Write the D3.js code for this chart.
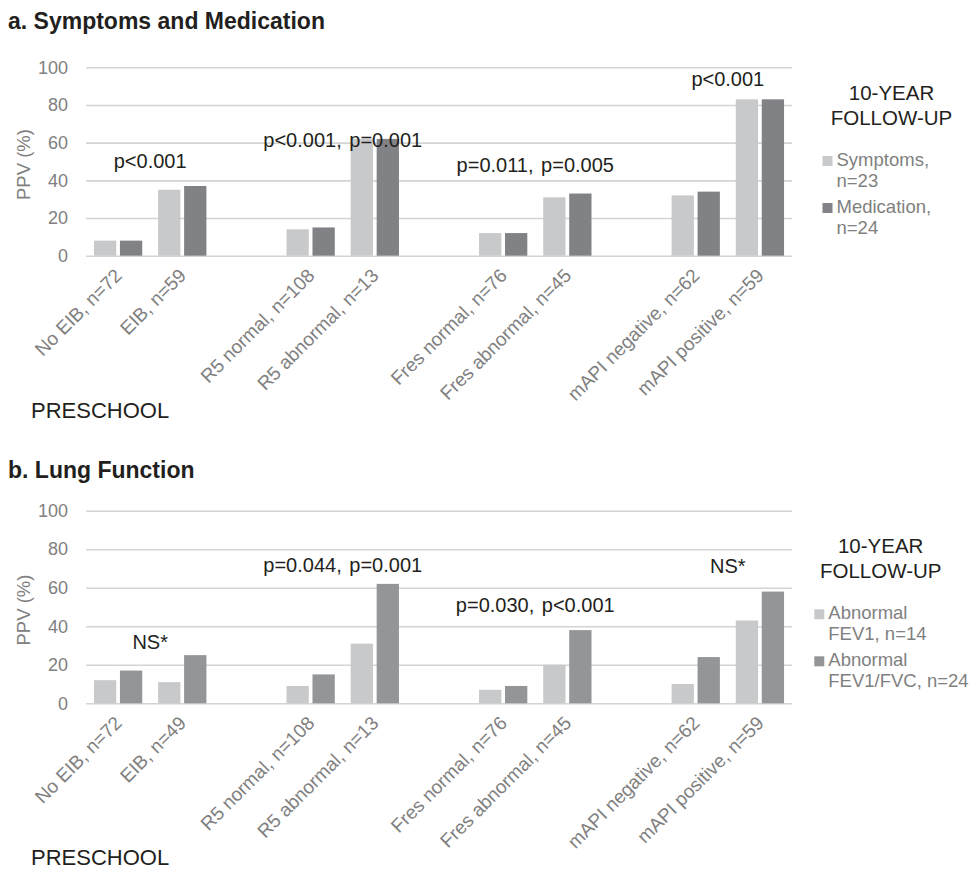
<!DOCTYPE html>
<html>
<head>
<meta charset="utf-8">
<script src="https://cdn.jsdelivr.net/npm/d3@7/dist/d3.min.js"></script>
<style>
  html, body { margin: 0; padding: 0; background: #ffffff; }
  svg { display: block; }
  text { font-family: "Liberation Sans", Arial, Helvetica, sans-serif; }
</style>
</head>
<body>
<script>
// ---------------- DATA ----------------
const categoriesA = ["No EIB, n=72", "EIB, n=59", "R5 normal, n=108", "R5 abnormal, n=13",
  "Fres normal, n=76", "Fres abnormal, n=45", "mAPI negative, n=62", "mAPI positive, n=59"];
const categoriesB = ["No EIB, n=72", "EIB, n=49", "R5 normal, n=108", "R5 abnormal, n=13",
  "Fres normal, n=76", "Fres abnormal, n=45", "mAPI negative, n=62", "mAPI positive, n=59"];

const symptoms   = [8, 35, 14, 62, 12, 31, 32, 83];
const medication = [8, 37, 15, 62, 12, 33, 34, 83];
const fev1       = [12, 11, 9, 31, 7, 20, 10, 43];
const fev1fvc    = [17, 25, 15, 62, 9, 38, 24, 58];

const yTicks = [0, 20, 40, 60, 80, 100];

const pTextA = ["p<0.001", "p<0.001, p=0.001", "p=0.011, p=0.005", "p<0.001"];
const pLevelA = [46.5, 57.7, 44.6, 90];
const pTextB = ["NS*", "p=0.044, p=0.001", "p=0.030, p<0.001", "NS*"];
const pLevelB = [28, 68, 47.6, 67.5];

const seriesNamesA = [["Symptoms,", "n=23"], ["Medication,", "n=24"]];
const seriesNamesB = [["Abnormal", "FEV1, n=14"], ["Abnormal", "FEV1/FVC, n=24"]];

// ---------------- DRAW ----------------
const W = 972, H = 869;
const svg = d3.select("body").append("svg").attr("width", W).attr("height", H);
svg.append("rect").attr("width", W).attr("height", H).attr("fill", "#fff");

const GRAY_TEXT = "#808080";
const GRID = "#d4d4d4";
const LIGHT = "#c8c9cb";
const BLACK = "#231f20";

function drawPanel(p) {
  const g = svg.append("g");
  // title
  g.append("text").attr("x", 8).attr("y", p.titleY)
    .attr("font-size", 23).attr("font-weight", "bold").attr("fill", BLACK)
    .text(p.title);

  const x0 = 86, x1 = 792;
  const slots = d3.scaleBand().domain(d3.range(11)).range([x0, x1]).paddingInner(0).paddingOuter(0);
  const slotOf = i => i + Math.floor(i / 2);
  const inner = d3.scaleBand().domain([0, 1]).range([0, slots.bandwidth()]).paddingInner(0.142).paddingOuter(0.306);
  const y = d3.scaleLinear().domain([0, 100]).range([p.y0, p.y100]);

  // grid + tick labels
  const axis = d3.axisLeft(y).tickValues(yTicks).tickSize(-(x1 - x0)).tickPadding(18);
  const ag = g.append("g").attr("transform", `translate(${x0},0)`).call(axis);
  ag.select(".domain").remove();
  ag.selectAll(".tick line").attr("stroke", GRID).attr("stroke-width", 1.6);
  ag.selectAll(".tick text").attr("fill", GRAY_TEXT).attr("font-size", 18)
    .attr("font-family", "\"Liberation Sans\", Arial, sans-serif");

  // y title
  g.append("text")
    .attr("transform", `translate(30,${(p.y0 + p.y100) / 2 + 3}) rotate(-90)`)
    .attr("text-anchor", "middle").attr("fill", GRAY_TEXT).attr("font-size", 18.5)
    .text("PPV (%)");

  // bars
  const series = [p.s1, p.s2];
  const colors = [LIGHT, p.dark];
  series.forEach((vals, si) => {
    g.append("g").selectAll("rect").data(vals).join("rect")
      .attr("x", (d, i) => slots(slotOf(i)) + inner(si))
      .attr("width", inner.bandwidth())
      .attr("y", d => y(d))
      .attr("height", d => y(0) - y(d))
      .attr("fill", colors[si]);
  });

  // x labels
  g.append("g").selectAll("text").data(p.cats).join("text")
    .attr("transform", (d, i) => `translate(${slots(slotOf(i)) + slots.bandwidth() / 2 + 5},${p.y0 + 21}) rotate(-45)`)
    .attr("text-anchor", "end").attr("fill", GRAY_TEXT).attr("font-size", 19)
    .text(d => d);

  // p annotations (centered on each pair)
  g.append("g").selectAll("text").data(p.pText).join("text")
    .attr("x", (d, k) => slots(3 * k + 1))
    .attr("y", (d, k) => y(p.pLevel[k]))
    .attr("text-anchor", "middle").attr("fill", BLACK).attr("font-size", 20)
    .attr("word-spacing", 2)
    .text(d => d);

  // PRESCHOOL
  g.append("text").attr("x", 31).attr("y", p.y0 + 162)
    .attr("font-size", 22).attr("fill", BLACK).text("PRESCHOOL");

  // legend
  const lg = g.append("g");
  lg.append("text").attr("x", p.legCx).attr("y", p.legY).attr("text-anchor", "middle")
    .attr("font-size", 20.5).attr("fill", BLACK).text("10-YEAR");
  lg.append("text").attr("x", p.legCx).attr("y", p.legY + 25).attr("text-anchor", "middle")
    .attr("font-size", 20.5).attr("fill", BLACK).text("FOLLOW-UP");
  p.names.forEach((lines, si) => {
    const by = p.legY + 66 + si * 47;
    lg.append("rect").attr("x", p.legX).attr("y", by - 10).attr("width", 10).attr("height", 10)
      .attr("fill", colors[si]);
    lines.forEach((t, li) => {
      lg.append("text").attr("x", p.legX + 14).attr("y", by + li * 21)
        .attr("font-size", 18.5).attr("fill", GRAY_TEXT).text(t);
    });
  });
}

drawPanel({
  title: "a. Symptoms and Medication", titleY: 29,
  y0: 255.7, y100: 67.3,
  s1: symptoms, s2: medication, dark: "#808285",
  cats: categoriesA, pText: pTextA, pLevel: pLevelA,
  names: seriesNamesA, legCx: 891.5, legY: 100, legX: 822.5
});

drawPanel({
  title: "b. Lung Function", titleY: 478,
  y0: 703.3, y100: 510.7,
  s1: fev1, s2: fev1fvc, dark: "#939598",
  cats: categoriesB, pText: pTextB, pLevel: pLevelB,
  names: seriesNamesB, legCx: 880.7, legY: 553.3, legX: 814.3
});
</script>
</body>
</html>
